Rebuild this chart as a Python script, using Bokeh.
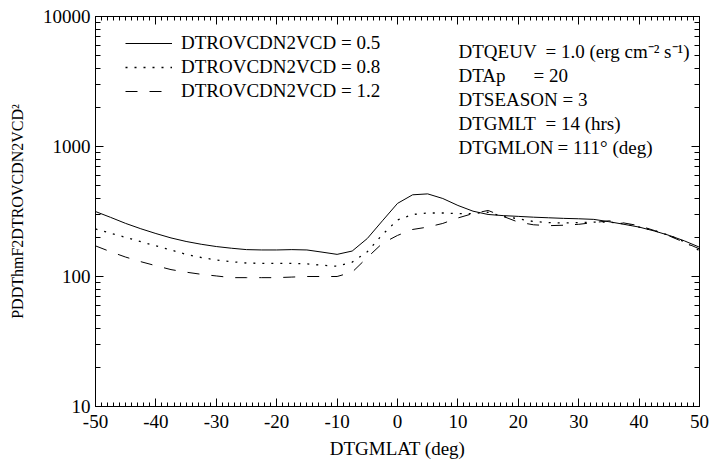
from bokeh.plotting import figure
from bokeh.models import (FixedTicker, LinearAxis, LogAxis, Legend, LegendItem, Label,
                          CustomJSTickFormatter, Range1d)
from bokeh.embed import file_html
from bokeh.resources import INLINE

# ---- data ----
gmlat = [-50, -47.5, -45, -42.5, -40, -37.5, -35, -32.5, -30, -27.5, -25, -22.5, -20,
         -17.5, -15, -12.5, -10, -7.5, -5, -2.5, 0, 2.5, 5, 7.5, 10, 12.5, 15, 17.5,
         20, 22.5, 25, 27.5, 30, 32.5, 35, 37.5, 40, 42.5, 45, 47.5, 50]

nmf2_05 = [316, 285, 256, 233, 214, 198, 186, 177, 170, 165, 161, 160, 160,
           161, 160, 154, 148, 157, 196, 268, 365, 425, 432, 398, 352, 318, 300, 294,
           290, 286, 283, 280, 278, 275, 264, 252, 240, 224, 207, 188, 168]

nmf2_08 = [232, 215, 200, 185, 172, 160, 148, 140, 134, 130, 127, 126, 126,
           126, 125, 122, 120, 129, 155, 210, 272, 300, 308, 308, 305, 305, 312, 290,
           278, 265, 260, 258, 260, 262, 262, 255, 240, 226, 207, 185, 158]

nmf2_12 = [172, 155, 141, 130, 121, 113, 108, 104, 101, 98, 98, 98, 98,
           99, 100, 100, 100, 108, 140, 180, 207, 230, 240, 256, 282, 305, 322, 290,
           262, 250, 246, 248, 252, 260, 268, 258, 246, 226, 205, 183, 163]

series_labels = ["DTROVCDN2VCD = 0.5", "DTROVCDN2VCD = 0.8", "DTROVCDN2VCD = 1.2"]
x_ticks = [-50, -40, -30, -20, -10, 0, 10, 20, 30, 40, 50]
y_ticks = [10, 100, 1000, 10000]
x_minor = list(range(-50, 51))
y_minor = [m * 10 ** e for e in range(1, 4) for m in range(2, 10)]

FONT = "Liberation Serif"
FS = "19px"

p = figure(width=709, height=462, output_backend="svg", toolbar_location=None,
           y_axis_type="log", x_range=Range1d(-50, 50), y_range=Range1d(10, 10000),
           frame_width=604, frame_height=390,
           min_border_left=95, min_border_right=10, min_border_top=16, min_border_bottom=56)
p.xgrid.visible = False
p.ygrid.visible = False


def style(ax, major_in, minor_in):
    ax.axis_line_color = "black"
    ax.major_tick_line_color = "black"
    ax.minor_tick_line_color = "black"
    ax.major_tick_line_width = 1
    ax.minor_tick_line_width = 1
    ax.major_tick_in = major_in
    ax.major_tick_out = 0
    ax.minor_tick_in = minor_in
    ax.minor_tick_out = 0
    ax.major_label_text_font = FONT
    ax.major_label_text_font_size = FS
    ax.major_label_text_color = "black"
    ax.axis_label_text_font = FONT
    ax.axis_label_text_font_size = FS
    ax.axis_label_text_font_style = "normal"
    ax.axis_label_text_color = "black"


p.xaxis.ticker = FixedTicker(ticks=x_ticks, minor_ticks=x_minor)
style(p.xaxis[0], 8, 4)
p.xaxis.formatter = CustomJSTickFormatter(code="return tick.toFixed(0);")
p.xaxis.axis_label = "DTGMLAT (deg)"
p.xaxis.major_label_standoff = 8
p.xaxis.axis_label_standoff = 7

p.yaxis.ticker = FixedTicker(ticks=y_ticks, minor_ticks=y_minor)
style(p.yaxis[0], 8, 5)
p.yaxis.formatter = CustomJSTickFormatter(code="return tick.toFixed(0);")
p.yaxis.axis_label = "PDDThmF2DTROVCDN2VCD\u00b2"
p.yaxis.axis_label_text_font_size = "16px"
p.yaxis.major_label_standoff = 5
p.yaxis.axis_label_standoff = 14

# mirrored axes (top / right) carrying only the inward tick marks
top = LinearAxis(ticker=FixedTicker(ticks=x_ticks, minor_ticks=x_minor))
style(top, 8, 4)
top.major_label_text_font_size = "2px"
top.major_label_text_alpha = 0
top.major_label_standoff = 0
p.add_layout(top, "above")
right = LogAxis(ticker=FixedTicker(ticks=y_ticks, minor_ticks=y_minor))
style(right, 8, 5)
right.major_label_text_font_size = "2px"
right.major_label_text_alpha = 0
right.major_label_standoff = 0
p.add_layout(right, "right")

r1 = p.line(gmlat, nmf2_05, line_color="black", line_width=1)
r2 = p.line(gmlat, nmf2_08, line_color="black", line_width=1.3, line_dash="2 7")
r3 = p.line(gmlat, nmf2_12, line_color="black", line_width=1, line_dash="12 12")

legend = Legend(items=[LegendItem(label=series_labels[0], renderers=[r1]),
                       LegendItem(label=series_labels[1], renderers=[r2]),
                       LegendItem(label=series_labels[2], renderers=[r3])],
                location=(30, 304), glyph_width=47, glyph_height=20, label_height=20,
                label_standoff=9, spacing=2, padding=0, margin=0,
                border_line_alpha=0, background_fill_alpha=0,
                label_text_font=FONT, label_text_font_size=FS, label_text_color="black")
p.add_layout(legend, "center")

# annotation block (screen units relative to frame bottom-left)
ann = [
    ("DTQEUV", 363, 51), ("= 1.0 (erg cm\u207b\u00b2 s\u207b\u00b9)", 450, 51),
    ("DTAp", 363, 75), ("= 20", 438, 75),
    ("DTSEASON = 3", 363, 99),
    ("DTGMLT", 363, 123), ("= 14 (hrs)", 450, 123),
    ("DTGMLON", 363, 147), ("= 111\u00b0 (deg)", 462, 147),
]
for txt, sx, cy in ann:
    p.add_layout(Label(x=sx, y=406 - cy, x_units="screen", y_units="screen", text=txt,
                       text_font=FONT, text_font_size=FS, text_color="black",
                       text_baseline="middle", text_align="left"))

open("out.html", "w").write(file_html(p, INLINE))
